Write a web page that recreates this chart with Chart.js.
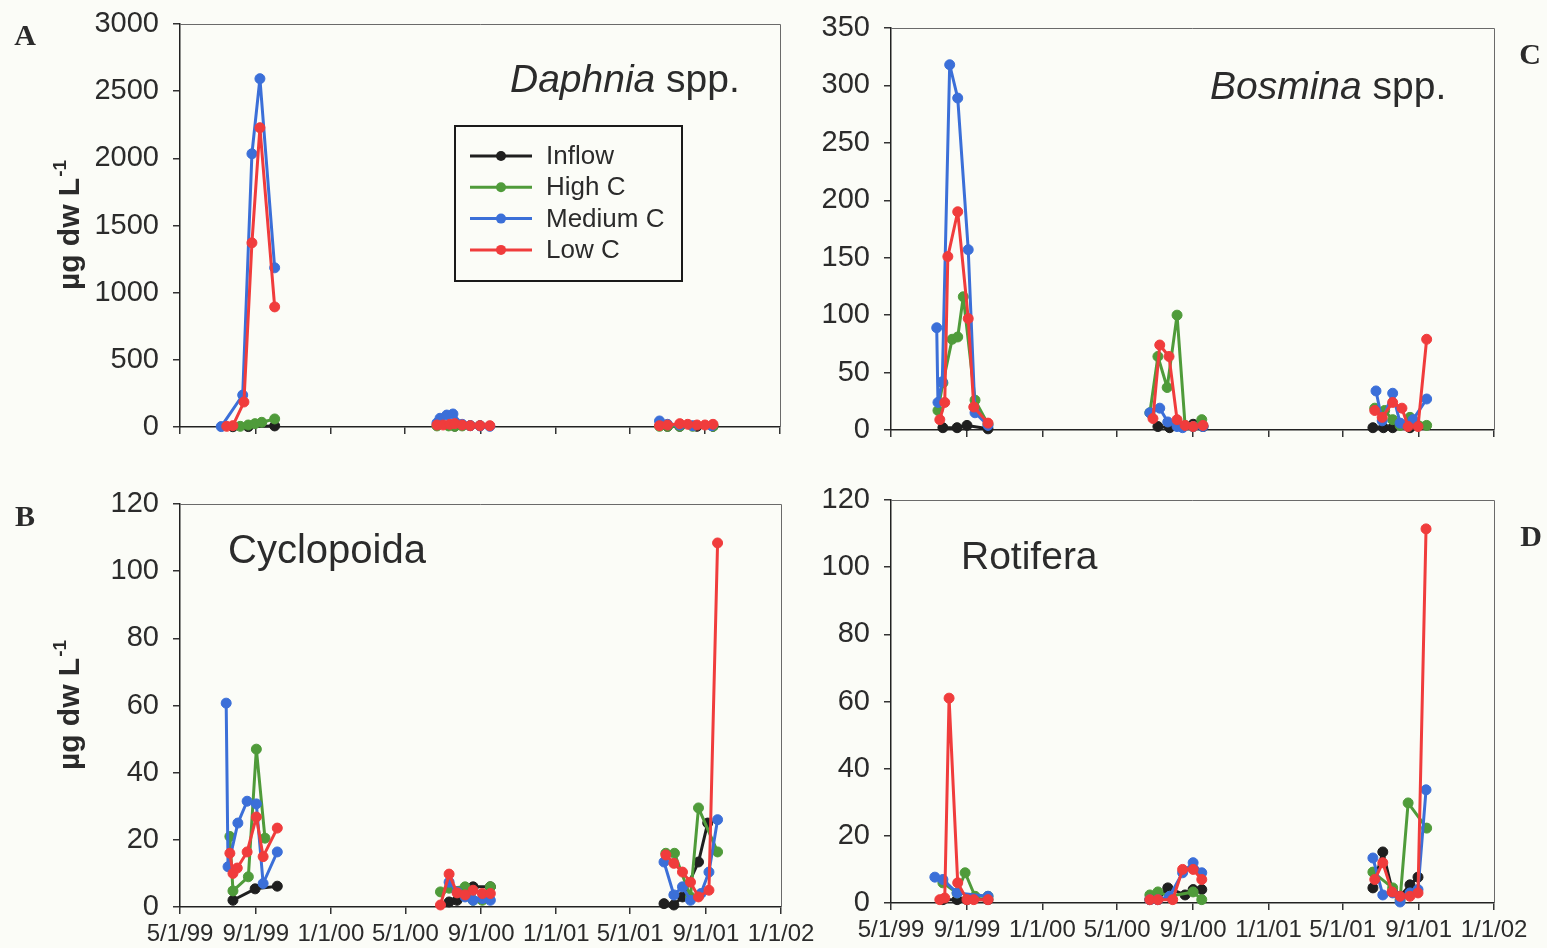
<!DOCTYPE html>
<html lang="en">
<head>
<meta charset="UTF-8">
<title>Zooplankton biomass by treatment</title>
<script src="https://cdn.jsdelivr.net/npm/chart.js"></script>
<style>
    html, body { margin: 0; padding: 0; background: #fbfcf7; }
    #wrap { position: relative; width: 1547px; height: 948px; }
    #wrap canvas { position: absolute; left: 0; top: 0; }
</style>
</head>
<body>
<div id="wrap">
    <canvas id="chartA" width="1547" height="948"></canvas>
    <canvas id="chartB" width="1547" height="948"></canvas>
    <canvas id="chartC" width="1547" height="948"></canvas>
    <canvas id="chartD" width="1547" height="948"></canvas>
</div>
<script>
// x axis ticks (sampling seasons 1999-2001)
const tickDates = ['5/1/99', '9/1/99', '1/1/00', '5/1/00', '9/1/00', '1/1/01', '5/1/01', '9/1/01', '1/1/02'];
const seriesNames = ['Inflow', 'High C', 'Medium C', 'Low C'];
const seriesColors = ['#1f1f1f', '#4f9b3a', '#3b6fd8', '#f03c3c'];

// Daphnia spp. (ug dw/L)
const daphniaInflow = [['7/26/99', 2], ['8/20/99', 3], ['10/2/99', 8],
    ['7/21/00', 6], ['8/15/00', 10], ['8/31/00', 10],
    ['7/2/01', 5], ['7/22/01', 5], ['8/19/01', 5], ['9/14/01', 5]];
const daphniaHigh = [['8/7/99', 5], ['8/20/99', 15], ['8/31/99', 25], ['9/11/99', 35], ['10/2/99', 60],
    ['6/22/00', 8], ['7/11/00', 8], ['7/21/00', 5], ['8/2/00', 8],
    ['6/19/01', 5], ['7/2/01', 5], ['7/22/01', 5], ['8/12/01', 5], ['9/14/01', 5]];
const daphniaMedium = [['7/7/99', 3], ['8/11/99', 238], ['8/26/99', 2034], ['9/8/99', 2593], ['10/2/99', 1185],
    ['6/22/00', 30], ['6/27/00', 65], ['7/8/00', 89], ['7/18/00', 97], ['8/2/00', 20], ['8/15/00', 10], ['8/31/00', 8], ['9/16/00', 5],
    ['6/19/01', 45], ['7/2/01', 20], ['7/22/01', 15], ['8/12/01', 10], ['9/12/01', 10]];
const daphniaLow = [['7/16/99', 5], ['7/26/99', 10], ['8/13/99', 186], ['8/26/99', 1371], ['9/8/99', 2228], ['10/2/99', 894],
    ['6/22/00', 15], ['7/2/00', 15], ['7/13/00', 20], ['7/21/00', 25], ['8/2/00', 15], ['8/15/00', 10], ['8/31/00', 10], ['9/16/00', 10],
    ['6/19/01', 10], ['7/2/01', 15], ['7/22/01', 25], ['8/4/01', 20], ['8/19/01', 15], ['9/1/01', 15], ['9/14/01', 20]];

// Bosmina spp.
const bosminaInflow = [['7/24/99', 2], ['8/16/99', 2], ['9/1/99', 4], ['10/5/99', 1],
    ['7/6/00', 3], ['7/25/00', 2], ['9/1/00', 5], ['9/17/00', 3],
    ['6/19/01', 2], ['7/6/01', 2], ['7/21/01', 2], ['8/18/01', 2]];
const bosminaHigh = [['7/16/99', 17], ['7/24/99', 41], ['8/8/99', 79], ['8/17/99', 81], ['8/26/99', 116], ['9/14/99', 26], ['10/5/99', 5],
    ['6/23/00', 15], ['7/6/00', 64], ['7/21/00', 37], ['8/6/00', 100], ['8/19/00', 4], ['9/1/00', 3], ['9/15/00', 9],
    ['6/22/01', 19], ['7/8/01', 17], ['7/21/01', 9], ['8/2/01', 4], ['8/18/01', 11], ['9/14/01', 4]];
const bosminaMedium = [['7/14/99', 89], ['7/16/99', 24], ['7/23/99', 42], ['8/4/99', 318], ['8/17/99', 289], ['9/3/99', 157], ['9/14/99', 15], ['10/5/99', 4],
    ['6/23/00', 15], ['7/9/00', 19], ['7/22/00', 7], ['8/6/00', 3], ['8/15/00', 2], ['9/1/00', 3], ['9/17/00', 3],
    ['6/24/01', 34], ['7/4/01', 8], ['7/21/01', 32], ['8/2/01', 6], ['8/13/01', 4], ['8/23/01', 9], ['9/14/01', 27]];
const bosminaLow = [['7/19/99', 9], ['7/27/99', 24], ['8/1/99', 151], ['8/17/99', 190], ['9/3/99', 97], ['9/12/99', 20], ['10/5/99', 6],
    ['6/28/00', 10], ['7/9/00', 74], ['7/24/00', 64], ['8/6/00', 9], ['8/19/00', 4], ['9/1/00', 3], ['9/17/00', 4],
    ['6/22/01', 17], ['7/4/01', 11], ['7/21/01', 24], ['8/5/01', 19], ['8/15/01', 3], ['8/31/01', 3], ['9/14/01', 79]];

// Cyclopoida
const cycloInflow = [['7/26/99', 2], ['8/31/99', 5.4], ['10/6/99', 6.2],
    ['7/11/00', 1.5], ['7/24/00', 2], ['8/6/00', 4], ['8/19/00', 6], ['9/16/00', 6],
    ['6/25/01', 1], ['7/11/01', 0.6], ['7/25/01', 3], ['8/20/01', 13.4], ['9/4/01', 25]];
const cycloHigh = [['7/21/99', 21], ['7/26/99', 4.8], ['8/20/99', 9], ['9/2/99', 47], ['9/16/99', 20.5],
    ['6/27/00', 4.5], ['7/11/00', 5.6], ['8/6/00', 6], ['8/19/00', 2], ['9/3/00', 2], ['9/16/00', 6],
    ['6/28/01', 16], ['7/12/01', 16], ['8/7/01', 3], ['8/20/01', 29.5], ['9/20/01', 16.4]];
const cycloMedium = [['7/15/99', 60.7], ['7/18/99', 12], ['8/3/99', 25], ['8/18/99', 31.5], ['9/2/99', 30.7], ['9/13/99', 7], ['10/6/99', 16.4],
    ['7/11/00', 7.4], ['7/24/00', 4.5], ['8/6/00', 3], ['8/19/00', 2], ['9/3/00', 2.5], ['9/16/00', 2],
    ['6/25/01', 13.4], ['7/11/01', 3.6], ['7/25/01', 6], ['8/7/01', 2], ['8/24/01', 4], ['9/6/01', 10.4], ['9/20/01', 26]];
const cycloLow = [['7/21/99', 16], ['7/26/99', 10], ['8/2/99', 11.6], ['8/18/99', 16.4], ['9/2/99', 26.8], ['9/13/99', 15], ['10/6/99', 23.5],
    ['6/27/00', 0.6], ['7/11/00', 9.8], ['7/24/00', 4.2], ['8/6/00', 3.6], ['8/19/00', 5], ['9/3/00', 4], ['9/16/00', 4],
    ['6/28/01', 15.5], ['7/11/01', 13], ['7/25/01', 10.4], ['8/7/01', 7.4], ['8/20/01', 3], ['9/6/01', 5], ['9/20/01', 108.4]];

// Rotifera
const rotiInflow = [['7/24/99', 1], ['8/16/99', 1], ['9/1/99', 1], ['10/5/99', 1],
    ['6/23/00', 1], ['7/6/00', 1], ['7/22/00', 4.5], ['8/19/00', 2.4], ['9/1/00', 4], ['9/15/00', 4],
    ['6/19/01', 4.5], ['7/5/01', 15.2], ['7/21/01', 3.3], ['8/2/01', 2], ['8/18/01', 5.4], ['8/31/01', 7.7]];
const rotiHigh = [['7/24/99', 6], ['8/16/99', 3], ['8/29/99', 9], ['9/14/99', 2], ['10/5/99', 2],
    ['6/23/00', 2.4], ['7/6/00', 3.3], ['7/25/00', 2], ['9/1/00', 3.3], ['9/15/00', 1],
    ['6/19/01', 9.2], ['7/21/01', 4.5], ['8/2/01', 1], ['8/15/01', 29.8], ['9/14/01', 22.3]];
const rotiMedium = [['7/11/99', 7.7], ['7/24/99', 7], ['8/16/99', 3], ['10/5/99', 2],
    ['6/23/00', 1], ['7/6/00', 1], ['7/25/00', 2], ['8/15/00', 9], ['9/1/00', 12], ['9/15/00', 9],
    ['6/19/01', 13.4], ['7/5/01', 2.4], ['7/21/01', 3], ['8/2/01', 0.3], ['8/18/01', 3], ['8/31/01', 4], ['9/13/01', 33.7]];
const rotiLow = [['7/19/99', 1], ['7/27/99', 1.5], ['8/3/99', 61], ['8/17/99', 6], ['9/1/99', 1], ['9/12/99', 1], ['10/5/99', 1],
    ['6/23/00', 1], ['7/6/00', 1], ['7/30/00', 1], ['8/15/00', 10], ['9/1/00', 10], ['9/15/00', 7],
    ['6/22/01', 7], ['7/5/01', 12], ['7/20/01', 3.3], ['8/2/01', 2], ['8/18/01', 2], ['8/31/01', 3], ['9/13/01', 111.4]];

const SANS = '"Liberation Sans", Arial, sans-serif';
const SERIF = '"Liberation Serif", "Times New Roman", serif';
const INK = '#2b2b2b';

// days since 5/1/99
function dayOf(s) {
    const [m, d, y] = s.split('/').map(Number);
    const year = y < 50 ? 2000 + y : 1900 + y;
    return (Date.UTC(year, m - 1, d) - Date.UTC(1999, 4, 1)) / 864e5;
}
const tickDays = tickDates.map(dayOf);

// titles, letters, y-title and legend drawn on top of each panel
const decorPlugin = {
    id: 'decor',
    afterDraw(chart, args, o) {
        const ctx = chart.ctx;
        const a = chart.chartArea;
        ctx.save();

        // plot frame (top and right edges)
        ctx.strokeStyle = '#6a6a6a';
        ctx.lineWidth = 1;
        ctx.beginPath();
        ctx.moveTo(a.left, a.top + 0.5);
        ctx.lineTo(a.right + 0.5, a.top + 0.5);
        ctx.lineTo(a.right + 0.5, a.bottom);
        ctx.stroke();

        ctx.fillStyle = INK;
        ctx.textBaseline = 'alphabetic';
        ctx.textAlign = 'left';

        // panel title, parts may be italic
        let tx = o.title.x;
        o.title.parts.forEach(([text, italic]) => {
            ctx.font = (italic ? 'italic ' : '') + o.title.size + 'px ' + SANS;
            ctx.fillText(text, tx, o.title.y);
            tx += ctx.measureText(text).width;
        });

        // panel letter
        ctx.font = 'bold 30px ' + SERIF;
        ctx.textAlign = 'center';
        ctx.textBaseline = 'middle';
        ctx.fillText(o.letter.text, o.letter.x, o.letter.y);

        // y axis title with superscript
        if (o.yTitle) {
            const cy = (a.top + a.bottom) / 2;
            ctx.translate(o.yTitle.x, cy);
            ctx.rotate(-Math.PI / 2);
            ctx.textAlign = 'left';
            ctx.textBaseline = 'alphabetic';
            const main = 'µg dw L', sup = '-1';
            ctx.font = 'bold 30px ' + SANS;
            const w1 = ctx.measureText(main).width;
            ctx.font = 'bold 19px ' + SANS;
            const w2 = ctx.measureText(sup).width;
            const x0 = -(w1 + w2) / 2;
            ctx.font = 'bold 30px ' + SANS;
            ctx.fillText(main, x0, 0);
            ctx.font = 'bold 19px ' + SANS;
            ctx.fillText(sup, x0 + w1 + 1, -13);
            ctx.setTransform(1, 0, 0, 1, 0, 0);
        }

        // legend box built from the datasets
        if (o.legend) {
            const L = o.legend;
            ctx.strokeStyle = '#1a1a1a';
            ctx.lineWidth = 2;
            ctx.strokeRect(L.x, L.y, L.w, L.h);
            ctx.font = '26px ' + SANS;
            ctx.textAlign = 'left';
            ctx.textBaseline = 'middle';
            chart.data.datasets.forEach((ds, i) => {
                const y = L.y + L.first + i * L.gap;
                ctx.strokeStyle = ds.borderColor;
                ctx.fillStyle = ds.borderColor;
                ctx.lineWidth = 3;
                ctx.beginPath();
                ctx.moveTo(L.x + 15, y);
                ctx.lineTo(L.x + 77, y);
                ctx.stroke();
                ctx.beginPath();
                ctx.arc(L.x + 46, y, 5, 0, Math.PI * 2);
                ctx.fill();
                ctx.fillStyle = INK;
                ctx.fillText(ds.label, L.x + 91, y + 1);
            });
        }
        ctx.restore();
    }
};

const Y_W = 140, X_H = 60;

function buildPanel(id, area, yMax, yStep, series, xLabels, decor) {
    const datasets = series.map((rows, i) => ({
        label: seriesNames[i],
        data: rows.map(([d, v]) => ({ x: dayOf(d), y: v })),
        borderColor: seriesColors[i],
        backgroundColor: seriesColors[i],
        borderWidth: 3,
        borderJoinStyle: 'round',
        borderCapStyle: 'round',
        pointRadius: 5,
        pointHoverRadius: 5,
        pointBorderWidth: 1,
        tension: 0,
        clip: false,
        order: 3 - i,
        // no line across the winter gap between seasons
        segment: {
            borderColor: c => (c.p1.parsed.x - c.p0.parsed.x > 60 ? 'rgba(0,0,0,0)' : undefined)
        }
    }));

    new Chart(document.getElementById(id), {
        type: 'line',
        data: { datasets },
        options: {
            responsive: false,
            animation: false,
            events: [],
            layout: {
                padding: {
                    left: area.left - Y_W,
                    top: area.top,
                    right: 1547 - area.right,
                    bottom: 948 - area.bottom - X_H
                }
            },
            plugins: {
                legend: { display: false },
                tooltip: { enabled: false },
                decor
            },
            scales: {
                x: {
                    type: 'linear',
                    min: 0,
                    max: tickDays[tickDays.length - 1],
                    afterBuildTicks: s => { s.ticks = tickDays.map(v => ({ value: v })); },
                    afterFit: s => { s.height = X_H; s.paddingLeft = 0; s.paddingRight = 0; },
                    ticks: {
                        display: xLabels,
                        autoSkip: false,
                        maxRotation: 0,
                        padding: 6,
                        color: INK,
                        font: { family: SANS, size: 24 },
                        callback: v => tickDates[tickDays.indexOf(v)]
                    },
                    grid: { drawOnChartArea: false, tickLength: 7, color: '#333', lineWidth: 1.5 },
                    border: { display: true, color: '#222', width: 1.5 }
                },
                y: {
                    min: 0,
                    max: yMax,
                    // fixed axis box so every panel's plot area sits where it should
                    afterFit: s => { s.width = Y_W; s.paddingTop = 0; s.paddingBottom = 0; },
                    ticks: {
                        stepSize: yStep,
                        padding: 14,
                        color: INK,
                        font: { family: SANS, size: 29 },
                        callback: v => String(v)
                    },
                    grid: { drawOnChartArea: false, tickLength: 7, color: '#333', lineWidth: 1.5 },
                    border: { display: true, color: '#222', width: 1.5 }
                }
            }
        },
        plugins: [decorPlugin]
    });
}

buildPanel('chartA', { left: 180, top: 24, right: 780, bottom: 427 }, 3000, 500,
    [daphniaInflow, daphniaHigh, daphniaMedium, daphniaLow], false, {
        title: { x: 510, y: 92, size: 39, parts: [['Daphnia', true], [' spp.', false]] },
        letter: { text: 'A', x: 25, y: 37 },
        yTitle: { x: 79 },
        legend: { x: 455, y: 126, w: 227, h: 155, first: 30, gap: 31.3 }
    });

buildPanel('chartB', { left: 180, top: 504, right: 781, bottom: 907 }, 120, 20,
    [cycloInflow, cycloHigh, cycloMedium, cycloLow], true, {
        title: { x: 228, y: 563, size: 40, parts: [['Cyclopoida', false]] },
        letter: { text: 'B', x: 25, y: 518 },
        yTitle: { x: 79 }
    });

buildPanel('chartC', { left: 891, top: 28, right: 1494, bottom: 430 }, 350, 50,
    [bosminaInflow, bosminaHigh, bosminaMedium, bosminaLow], false, {
        title: { x: 1210, y: 99, size: 39, parts: [['Bosmina', true], [' spp.', false]] },
        letter: { text: 'C', x: 1530, y: 56 }
    });

buildPanel('chartD', { left: 891, top: 500, right: 1494, bottom: 903 }, 120, 20,
    [rotiInflow, rotiHigh, rotiMedium, rotiLow], true, {
        title: { x: 961, y: 569, size: 39, parts: [['Rotifera', false]] },
        letter: { text: 'D', x: 1531, y: 538 }
    });
</script>
</body>
</html>
